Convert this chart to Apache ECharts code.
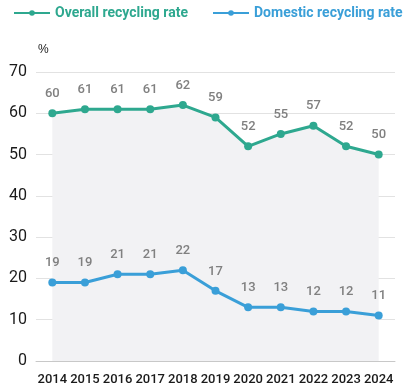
<!DOCTYPE html>
<html><head><meta charset="utf-8">
<script src="https://cdn.jsdelivr.net/npm/echarts@6/dist/echarts.min.js"></script>
<style>html,body{margin:0;padding:0;background:#fff}#c{width:407px;height:390px}</style>
</head><body><div id="c"></div>
<script>
var years = ['2014','2015','2016','2017','2018','2019','2020','2021','2022','2023','2024'];
var overall = [60,61,61,61,62,59,52,55,57,52,50];
var domestic = [19,19,21,21,22,17,13,13,12,12,11];
var yTicks = {min:0, max:70, interval:10};
var names = ['Overall recycling rate','Domestic recycling rate'];
var teal = '#2ea88f', blue = '#3a9fd8';
var ff = 'Roboto, sans-serif';
var chart = echarts.init(document.getElementById('c'));
var legendBase = {top:1, itemWidth:36, itemHeight:7, textStyle:{fontFamily:ff, fontWeight:'bold', fontSize:14}};
chart.setOption({
  animation:false,
  legend:[
    Object.assign({}, legendBase, {left:8, data:[{name:names[0], textStyle:{color:teal}}]}),
    Object.assign({}, legendBase, {left:207, data:[{name:names[1], textStyle:{color:blue}}]})
  ],
  grid:{left:36, right:12, top:72, bottom:29},
  xAxis:{
    type:'category', data:years, boundaryGap:true,
    axisLine:{lineStyle:{color:'#c8c8c8'}},
    axisTick:{alignWithLabel:true, length:6, lineStyle:{color:'#c8c8c8'}},
    axisLabel:{interval:0, color:'#1a1a1a', fontSize:13, fontFamily:ff, fontWeight:500, margin:12}
  },
  yAxis:{
    type:'value', min:yTicks.min, max:yTicks.max, interval:yTicks.interval,
    name:'%', nameLocation:'end', nameGap:16,
    nameTextStyle:{color:'#1a1a1a', fontSize:12, align:'left', padding:[0,0,0,2]},
    axisLabel:{color:'#1a1a1a', fontSize:16, margin:9, fontFamily:ff},
    splitLine:{lineStyle:{color:'#e2e2e2'}},
    axisLine:{show:false}, axisTick:{show:false}
  },
  series:[
    {name:names[0], type:'line', data:overall, color:teal, symbol:'circle', symbolSize:8,
     lineStyle:{width:3}, areaStyle:{color:'#f2f2f4', opacity:1},
     label:{show:true, position:'top', distance:9, color:'#808080', fontSize:13, fontFamily:ff, fontWeight:500}},
    {name:names[1], type:'line', data:domestic, color:blue, symbol:'circle', symbolSize:8,
     lineStyle:{width:3},
     label:{show:true, position:'top', distance:9, color:'#808080', fontSize:13, fontFamily:ff, fontWeight:500}}
  ]
});
</script></body></html>
